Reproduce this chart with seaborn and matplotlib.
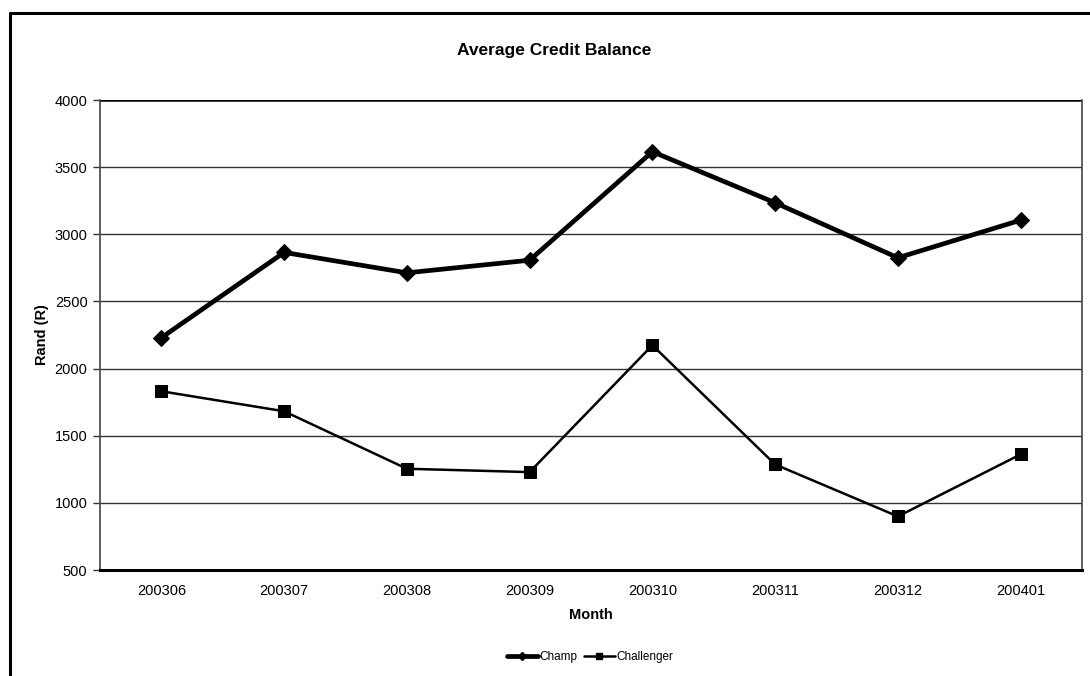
import matplotlib
matplotlib.use("Agg")
import matplotlib.pyplot as plt
from matplotlib.lines import Line2D
import pandas as pd
import seaborn as sns

# Monthly average credit balance per strategy (Rand)
months = ["200306", "200307", "200308", "200309", "200310", "200311", "200312", "200401"]
champ = [2230, 2865, 2713, 2807, 3615, 3235, 2825, 3105]
challenger = [1831, 1682, 1254, 1229, 2174, 1286, 899, 1361]
y_ticks = [500, 1000, 1500, 2000, 2500, 3000, 3500, 4000]

sns.set_theme(style="white")
plt.rcParams["font.family"] = ["Liberation Sans", "DejaVu Sans"]
plt.rcParams["text.color"] = "black"
plt.rcParams["axes.labelcolor"] = "black"
plt.rcParams["xtick.color"] = "black"
plt.rcParams["ytick.color"] = "black"

df = pd.DataFrame({
    "Month": months * 2,
    "Rand": champ + challenger,
    "Series": ["Champ"] * len(months) + ["Challenger"] * len(months),
})

fig = plt.figure(figsize=(10.9, 6.76), dpi=100)
ax = fig.add_axes([100 / 1090, 1 - 570 / 676, 982 / 1090, 470 / 676])

styles = {
    "Champ": dict(marker="D", lw=3.4, ms=8.5),
    "Challenger": dict(marker="s", lw=1.8, ms=8.5),
}
for name, st in styles.items():
    sub = df[df["Series"] == name]
    sns.lineplot(data=sub, x="Month", y="Rand", ax=ax, color="black",
                 marker=st["marker"], markersize=st["ms"], linewidth=st["lw"],
                 markeredgecolor="black", markerfacecolor="black",
                 sort=False, legend=False, zorder=3)

ax.set_xlim(-0.5, len(months) - 0.5)
ax.set_ylim(500, 4000)
ax.set_yticks(y_ticks)
ax.set_yticklabels([str(v) for v in y_ticks], fontsize=10.5)
ax.set_xticks(range(len(months)))
ax.set_xticklabels(months, fontsize=10.5)
ax.set_xticks([i - 0.5 for i in range(len(months) + 1)], minor=True)
ax.tick_params(axis="x", which="major", length=0, pad=10)
ax.tick_params(axis="x", which="minor", length=3, width=0.8, color="#555555", direction="out")
ax.tick_params(axis="y", which="major", length=5, width=1, color="#333333", direction="out", left=True, pad=4)

# Horizontal gridlines
for v in y_ticks[1:-1]:
    ax.axhline(v, color="#333333", lw=1.0, zorder=1)
ax.axhline(4000, color="black", lw=1.8, zorder=1)

for side in ["left", "right"]:
    ax.spines[side].set_color("#444444")
    ax.spines[side].set_linewidth(1.2)
ax.spines["top"].set_visible(False)
ax.spines["bottom"].set_color("black")
ax.spines["bottom"].set_linewidth(2.2)

ax.set_xlabel("Month", fontsize=10.5, fontweight="bold", labelpad=7)
ax.set_ylabel("Rand (R)", fontsize=10.5, fontweight="bold", labelpad=4)

fig.text(554 / 1090, 1 - 51 / 676, "Average Credit Balance", ha="center", va="center",
         fontsize=12.5, fontweight="bold")

handles = [
    Line2D([], [], color="black", lw=3.4, marker="D", ms=4.5),
    Line2D([], [], color="black", lw=1.8, marker="s", ms=4.5),
]
fig.legend(handles, ["Champ", "Challenger"], loc="center",
           bbox_to_anchor=(590 / 1090, 1 - 657 / 676), ncol=2, frameon=False,
           fontsize=8.5, handlelength=2.6, handletextpad=0.1, columnspacing=0.6)

# Outer chart frame (left and top edges)
fig.add_artist(Line2D([9.5 / 1090, 9.5 / 1090], [0, 1 - 12.5 / 676], color="black", lw=2.2,
                      transform=fig.transFigure))
fig.add_artist(Line2D([9.5 / 1090, 1], [1 - 12.5 / 676, 1 - 12.5 / 676], color="black", lw=2.2,
                      transform=fig.transFigure))

fig.savefig("out.png", dpi=100)
